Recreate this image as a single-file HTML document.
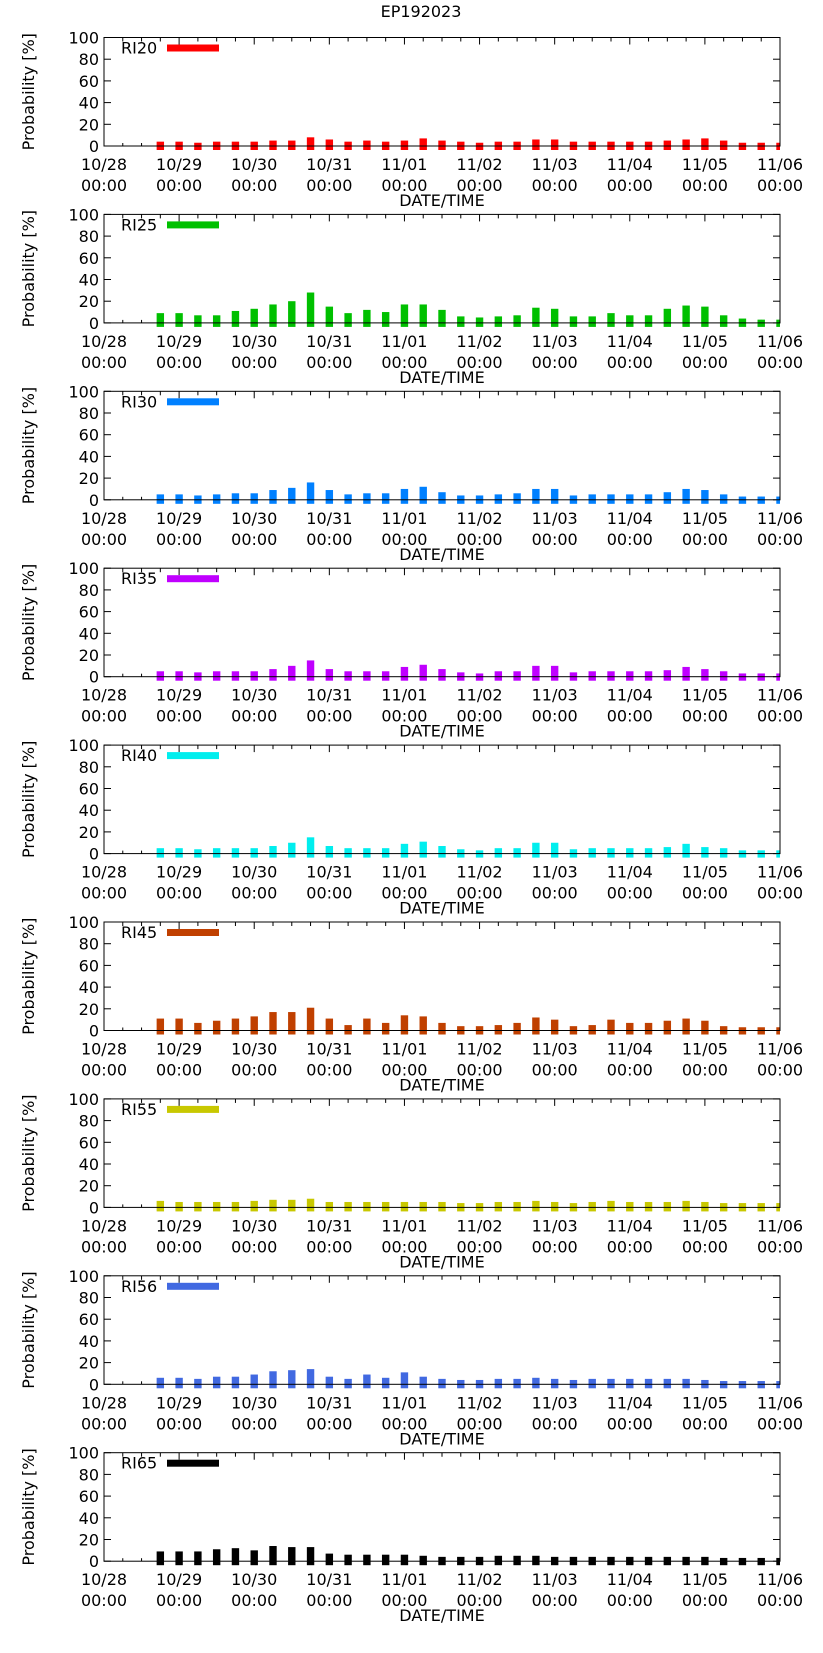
<!DOCTYPE html>
<html><head><meta charset="utf-8"><style>
html,body{margin:0;padding:0;background:#fff;}
svg{display:block;font-family:"DejaVu Sans","Liberation Sans",sans-serif;}
</style></head><body>
<svg id="chart" width="823" height="1653" viewBox="0 0 823 1653" xmlns="http://www.w3.org/2000/svg">
<text x="421" y="17" font-size="16" text-anchor="middle">EP192023</text>
</svg>
<script>
const seriesNames = ["RI20","RI25","RI30","RI35","RI40","RI45","RI55","RI56","RI65"];
const seriesColors = ["#ff0000","#00c000","#0080ff","#c000ff","#00eeee","#c04000","#c8c800","#4169e1","#000000"];
const ri20 = [4,4,3,4,4,4,5,5,8,6,4,5,4,5,7,5,4,3,4,4,6,6,4,4,4,4,4,5,6,7,5,3,3,3];
const ri25 = [9,9,7,7,11,13,17,20,28,15,9,12,10,17,17,12,6,5,6,7,14,13,6,6,9,7,7,13,16,15,7,4,3,3];
const ri30 = [5,5,4,5,6,6,9,11,16,9,5,6,6,10,12,7,4,4,5,6,10,10,4,5,5,5,5,7,10,9,5,3,3,3];
const ri35 = [5,5,4,5,5,5,7,10,15,7,5,5,5,9,11,7,4,3,5,5,10,10,4,5,5,5,5,6,9,7,5,3,3,3];
const ri40 = [5,5,4,5,5,5,7,10,15,7,5,5,5,9,11,7,4,3,5,5,10,10,4,5,5,5,5,6,9,6,5,3,3,3];
const ri45 = [11,11,7,9,11,13,17,17,21,11,5,11,7,14,13,7,4,4,5,7,12,10,4,5,10,7,7,9,11,9,4,3,3,3];
const ri55 = [6,5,5,5,5,6,7,7,8,5,5,5,5,5,5,5,4,4,5,5,6,5,4,5,6,5,5,5,6,5,4,4,4,4];
const ri56 = [6,6,5,7,7,9,12,13,14,7,5,9,6,11,7,5,4,4,5,5,6,5,4,5,5,5,5,5,5,4,3,3,3,3];
const ri65 = [9,9,9,11,12,10,14,13,13,7,6,6,6,6,5,4,4,4,5,5,5,4,4,4,4,4,4,4,4,4,3,3,3,3];
const allSeries = [ri20,ri25,ri30,ri35,ri40,ri45,ri55,ri56,ri65];
const barTimes = [0.75,1,1.25,1.5,1.75,2,2.25,2.5,2.75,3,3.25,3.5,3.75,4,4.25,4.5,4.75,5,5.25,5.5,5.75,6,6.25,6.5,6.75,7,7.25,7.5,7.75,8,8.25,8.5,8.75,9];
const xTickDays = [0,1,2,3,4,5,6,7,8,9];
const xTickLabels = ["10/28","10/29","10/30","10/31","11/01","11/02","11/03","11/04","11/05","11/06"];
const yTicks = [0,20,40,60,80,100];

const NS = "http://www.w3.org/2000/svg";
const svg = document.getElementById('chart');
const L = 104, R = 780, DAYS = 9;
function mk(tag, attrs, parent){ const e=document.createElementNS(NS,tag); for(const k in attrs) e.setAttribute(k,attrs[k]); (parent||svg).appendChild(e); return e; }
function xs(d){ return L + (R-L)*d/DAYS; }

seriesNames.forEach((name, k) => {
  const top = 37.5 + 176.9*k, zero = 146 + 176.9*k, H = zero - top;
  const ys = v => zero - H*v/100;
  const g = mk('g', {});
  
  
  const clipId = 'clip' + k;
  const cp = mk('clipPath', {id: clipId}, g);
  mk('rect', {x: L, y: top - 2, width: R - L, height: H + 10}, cp);
  yTicks.forEach(t => {
    const y = ys(t);
    mk('line', {x1: L, x2: L + 7, y1: y, y2: y, stroke: '#000'}, g);
    mk('line', {x1: R, x2: R - 7, y1: y, y2: y, stroke: '#000'}, g);
    const tl = mk('text', {x: L - 5, y: y + 6, 'font-size': 16, 'text-anchor': 'end'}, g);
    tl.textContent = t;
    
    
  });
  for (let q = 0; q <= DAYS * 4; q++) {
    const x = xs(q / 4), len = (q % 4 === 0) ? 7 : 4;
    mk('line', {x1: x, x2: x, y1: zero, y2: zero - 3, stroke: '#000'}, g);
    mk('line', {x1: x, x2: x, y1: top, y2: top + len, stroke: '#000'}, g);
  }
  const bg = mk('g', {'clip-path': 'url(#' + clipId + ')'}, g);
  allSeries[k].forEach((v, i) => {
    const x = xs(barTimes[i]);
    const yTop = ys(v), yBot = zero + 4;
    const b = mk('rect', {x: x - 3.7, y: yTop, width: 7.4, height: yBot - yTop, fill: seriesColors[k]}, bg);
    
    
  });
  const fr = mk('rect', {x: L, y: top, width: R - L, height: H, fill: 'none', stroke: '#000', 'stroke-width': 1}, g);
  
  
  xTickDays.forEach((d, i) => {
    const t = mk('text', {x: xs(d), y: zero + 24, 'font-size': 16, 'text-anchor': 'middle'}, g);
    t.textContent = xTickLabels[i];
    
    
    const t2 = mk('text', {x: xs(d), y: zero + 45, 'font-size': 16, 'text-anchor': 'middle'}, g);
    t2.textContent = '00:00';
    
    
  });
  const xt = mk('text', {x: 442, y: zero + 60, 'font-size': 16, 'text-anchor': 'middle'}, g);
  xt.textContent = 'DATE/TIME';
  
  
  const yt = mk('text', {x: 0, y: 0, 'font-size': 16, 'text-anchor': 'middle', transform: 'translate(34,' + (top + H/2) + ') rotate(-90)'}, g);
  yt.textContent = 'Probability [%]';
  
  
  const lt = mk('text', {x: 121, y: top + 16, 'font-size': 16}, g);
  lt.textContent = name;
  
  
  const ls = mk('rect', {x: 167, y: top + 7, width: 52, height: 7, fill: seriesColors[k]}, g);
  
  
});
</script>
</body></html>
